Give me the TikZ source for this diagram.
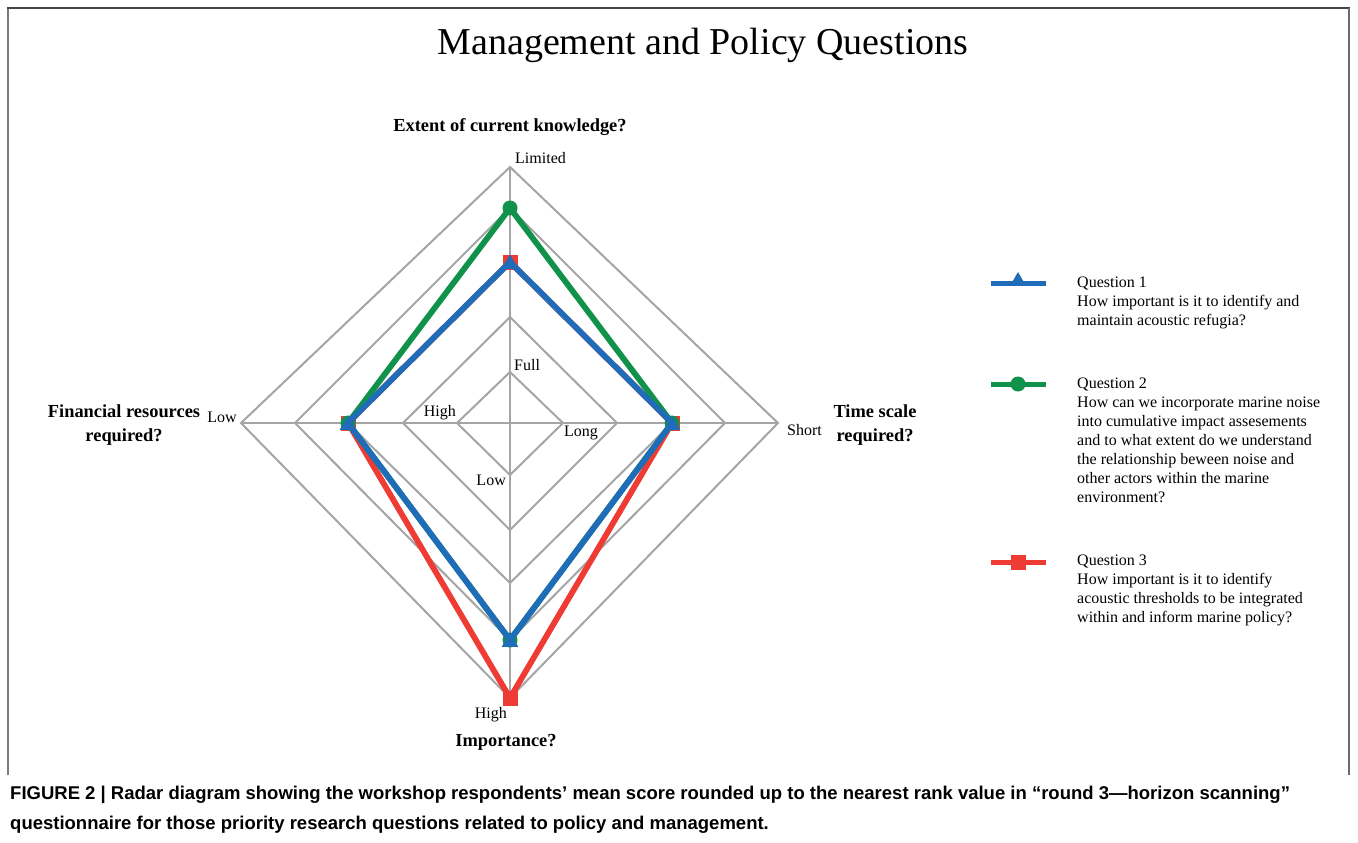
\documentclass[tikz,border=0pt]{standalone}
\usepackage{fontspec}
\setmainfont{Liberation Serif}
\newfontfamily\capfont{Liberation Sans}
\usetikzlibrary{shapes.geometric}
\definecolor{qblue}{HTML}{1F6DB8}
\definecolor{qgreen}{HTML}{10924A}
\definecolor{qred}{HTML}{EE3B33}
\definecolor{gridgray}{HTML}{A5A5A5}
\definecolor{frametop}{HTML}{454545}
\definecolor{frameside}{HTML}{7A7A7A}
\begin{document}
\begin{tikzpicture}[x=1pt,y=-1pt,
  gridline/.style={draw=gridgray,line width=2pt},
  series/.style={line width=5.8pt,line join=miter},
  tick/.style={font=\fontsize{16}{19}\selectfont,inner sep=0pt},
  axlabel/.style={font=\fontsize{18.4}{24}\selectfont\bfseries,inner sep=0pt,align=center},
  legtext/.style={font=\fontsize{16}{19}\selectfont,inner sep=0pt,align=left,anchor=north west},
  tri/.style={regular polygon,regular polygon sides=3,fill=qblue,inner sep=0pt,minimum size=19pt},
  dot/.style={circle,fill=qgreen,inner sep=0pt,minimum size=15pt},
  sq/.style={rectangle,fill=qred,inner sep=0pt,minimum size=15pt},
  capline/.style={anchor=west,inner sep=0pt,font=\capfont\bfseries\fontsize{18.5}{22}\selectfont}
]
\useasboundingbox (0,0) rectangle (1358,843);
\fill[white] (0,0) rectangle (1358,843);
% frame
\draw[frameside,line width=2pt] (8,775) -- (8,8);
\draw[frametop,line width=2pt] (7,8) -- (1350,8);
\draw[frametop!80!white,line width=2pt] (1349,8) -- (1349,775);
% title
\node[font=\fontsize{38}{44}\selectfont,inner sep=0pt] (title) at (703,45) {Management and Policy Questions};
% grid rings
\foreach \t/\r/\b/\l in {372/563/475/457, 317/617/530/403, 262/672/583/348, 208/725/640/295, 167/778/698/241}
  \draw[gridline,line join=miter] (510,\t) -- (\r,423) -- (510,\b) -- (\l,423) -- cycle;
\draw[gridline] (510,167) -- (510,698);
\draw[gridline] (241,423) -- (778,423);
% data points
\coordinate (t3) at (510,262); \coordinate (t4) at (510,208);
\coordinate (r3) at (672,423); \coordinate (l3) at (348,423);
\coordinate (b4) at (510,640); \coordinate (b5) at (510,698);
% Question 3
\draw[series,qred] (t3) -- (r3) -- (b5) -- (l3) -- cycle;
\foreach \p in {t3,r3,b5,l3} \node[sq] at (\p) {};
% Question 2
\draw[series,qgreen] (t4) -- (r3) -- (b4) -- (l3) -- cycle;
\foreach \p in {t4,r3,b4,l3} \node[dot] at (\p) {};
% Question 1
\draw[series,qblue] (t3) -- (r3) -- (b4) -- (l3) -- cycle;
\foreach \p in {t3,r3,b4,l3} \node[tri] at ([yshift=-2pt]\p) {};
% tick labels
\node[tick,anchor=west] (limited) at (515,158) {Limited};
\node[tick,anchor=west] (full) at (514,365) {Full};
\node[tick,anchor=east] (hi1) at (456,413) {High};
\node[tick,anchor=west] (long) at (564,433) {Long};
\node[tick,anchor=east] (low1) at (506,480) {Low};
\node[tick,anchor=east] (low5) at (237,417) {Low};
\node[tick,anchor=west] (short) at (787,430) {Short};
\node[tick,anchor=east] (hi5) at (507,715) {High};
% axis titles
\node[axlabel] (ext) at (510,127) {Extent of current knowledge?};
\node[axlabel] (imp) at (506,742) {Importance?};
\node[axlabel] (fin) at (124,425) {Financial resources\\required?};
\node[axlabel] (time) at (875,425) {Time scale\\required?};
% legend
\coordinate (lb1) at (991,283); \coordinate (lb2) at (1046,283);
\coordinate (lg1) at (991,384); \coordinate (lg2) at (1046,384);
\coordinate (lr1) at (991,562); \coordinate (lr2) at (1046,562);
\draw[qblue,line width=5pt] (lb1) -- (lb2);
\node[tri,minimum size=18pt] at (1018,281) {};
\draw[qgreen,line width=5pt] (lg1) -- (lg2);
\node[dot] at (1018,384) {};
\draw[qred,line width=5pt] (lr1) -- (lr2);
\node[sq] at (1018,562) {};
\node[legtext] (q1) at (1077,277) {Question 1\\How important is it to identify and\\maintain acoustic refugia?};
\node[legtext] (q2) at (1077,378) {Question 2\\How can we incorporate marine noise\\into cumulative impact assesements\\and to what extent do we understand\\the relationship beween noise and\\other actors within the marine\\environment?};
\node[legtext] (q3) at (1077,555) {Question 3\\How important is it to identify\\acoustic thresholds to be integrated\\within and inform marine policy?};
% caption
\node[capline] (cap1) at (10,795) {FIGURE 2 | Radar diagram showing the workshop respondents’ mean score rounded up to the nearest rank value in “round 3—horizon scanning”};
\node[capline] (cap2) at (10,825) {questionnaire for those priority research questions related to policy and management.};
\end{tikzpicture}
\end{document}
